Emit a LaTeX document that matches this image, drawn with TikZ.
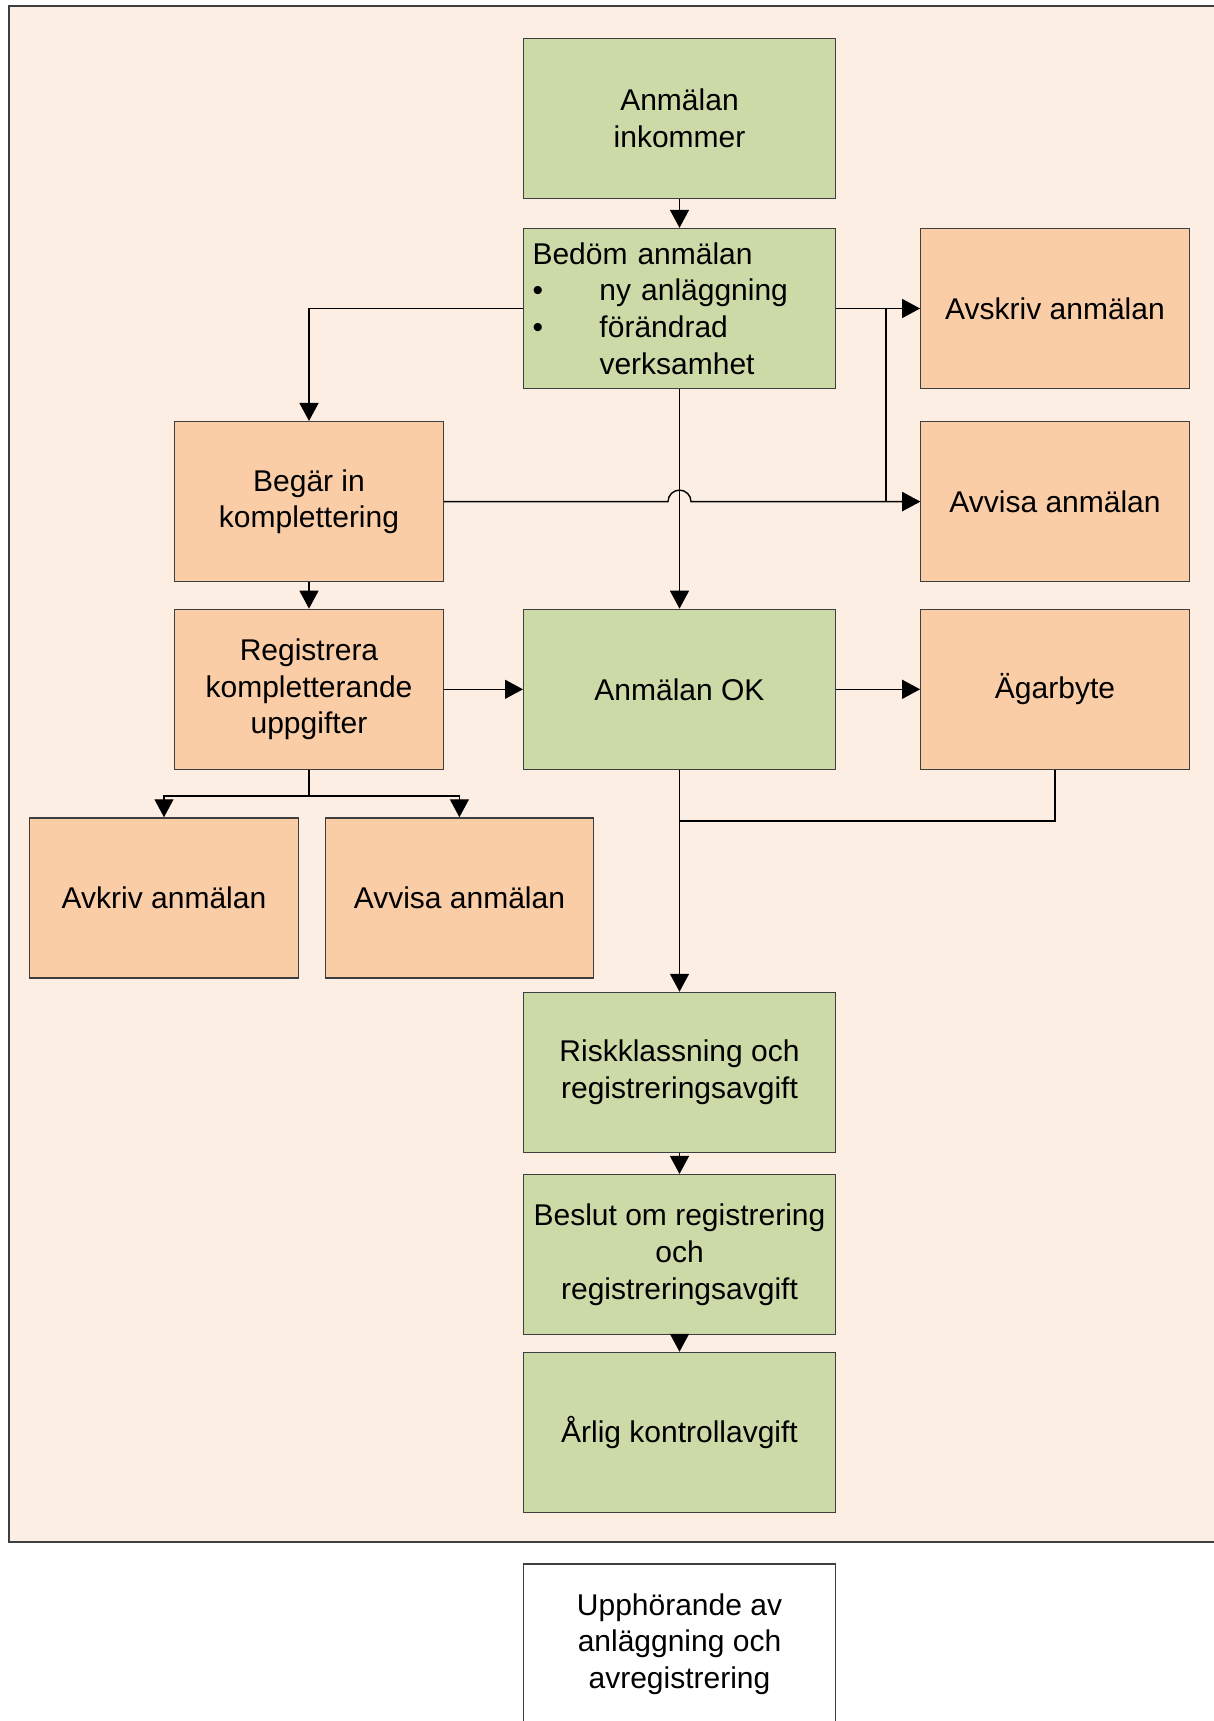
\documentclass[tikz,border=0pt]{standalone}
\usepackage{fontspec}
\setmainfont{Liberation Sans}
\usetikzlibrary{arrows.meta}
\usetikzlibrary{calc}
\definecolor{boxgreen}{RGB}{204,218,168}
\definecolor{boxorange}{RGB}{250,205,166}
\definecolor{bgpeach}{RGB}{253,238,227}
\definecolor{boxline}{RGB}{62,62,62}
\tikzset{blk/.style={draw=boxline, line width=1.3pt, minimum height=160pt, align=center, inner sep=0pt, font=\fontsize{30}{36.7}\selectfont},
  wideblk/.style={blk, minimum width=311.7pt},
  narrowblk/.style={blk, minimum width=268.5pt},
  arr/.style={-{Triangle[length=18pt,width=19pt]}, line width=1.4pt},
  conn/.style={line width=1.4pt}}
\newcommand\flowblock[5]{\node[#5, fill=#4] (#1) at (#2) {#3};}
\newcommand\bul{\makebox[67pt][l]{\textbullet}}

\begin{document}
\begin{tikzpicture}[x=1pt,y=-1pt]
\useasboundingbox (0,0) rectangle (1214,1721);
\filldraw[fill=bgpeach, draw=boxline, line width=2pt] (8.5,6) rectangle (1230,1542);

\flowblock{ink}{679.5,118.5}{Anmälan\\inkommer}{boxgreen}{wideblk}
\flowblock{bed}{679.5,308.5}{Bedöm anmälan\\\bul ny anläggning\\\bul förändrad\\\hspace*{67pt}verksamhet}{boxgreen}{wideblk, text width=294pt, align=left}
\flowblock{avsk}{1055,308.5}{Avskriv anmälan}{boxorange}{narrowblk}
\flowblock{beg}{309,501.6}{Begär in\\komplettering}{boxorange}{narrowblk}
\flowblock{avv}{1055,501.6}{Avvisa anmälan}{boxorange}{narrowblk}
\flowblock{reg}{309,689.3}{Registrera\\kompletterande\\uppgifter}{boxorange}{narrowblk}
\flowblock{ok}{679.5,689.3}{Anmälan OK}{boxgreen}{wideblk}
\flowblock{aga}{1055,689.3}{Ägarbyte}{boxorange}{narrowblk}
\flowblock{avkr}{164,897.9}{Avkriv anmälan}{boxorange}{narrowblk}
\flowblock{avvb}{459.4,897.9}{Avvisa anmälan}{boxorange}{narrowblk}
\flowblock{risk}{679.5,1072.4}{Riskklassning och\\registreringsavgift}{boxgreen}{wideblk}
\flowblock{besl}{679.5,1254.6}{Beslut om registrering\\och\\registreringsavgift}{boxgreen}{wideblk}
\flowblock{arl}{679.5,1432.4}{Årlig kontrollavgift}{boxgreen}{wideblk}
\flowblock{upp}{679.5,1644}{Upphörande av\\anläggning och\\avregistrering}{white}{wideblk}

% connectors
\coordinate (split) at (886,308.5);
\coordinate (fork) at (309,796);
\coordinate (merge) at (679.5,821);
\draw[arr] (ink) -- (bed);
\draw[arr] (bed.west) -| (beg.north);
\draw[arr] (bed.east) -- (avsk.west);
\draw[arr] (split) |- (avv.west);
\draw[arr] (bed) -- (ok);
\draw[arr] (beg.east) -- ($(beg.east -| ok)+(-11.5,0)$) arc[start angle=180, end angle=360, radius=11.5] -- (avv.west);
\draw[arr] (beg) -- (reg);
\draw[arr] (reg) -- (ok);
\draw[arr] (ok) -- (aga);
\draw[conn] (reg.south) -- (fork);
\draw[arr] (fork) -| (avkr.north);
\draw[arr] (fork) -| (avvb.north);
\draw[conn] (aga.south) |- (merge);
\draw[arr] (ok) -- (risk);
\draw[arr] (risk) -- (besl);
\draw[arr] (besl) -- (arl);
\end{tikzpicture}
\end{document}
